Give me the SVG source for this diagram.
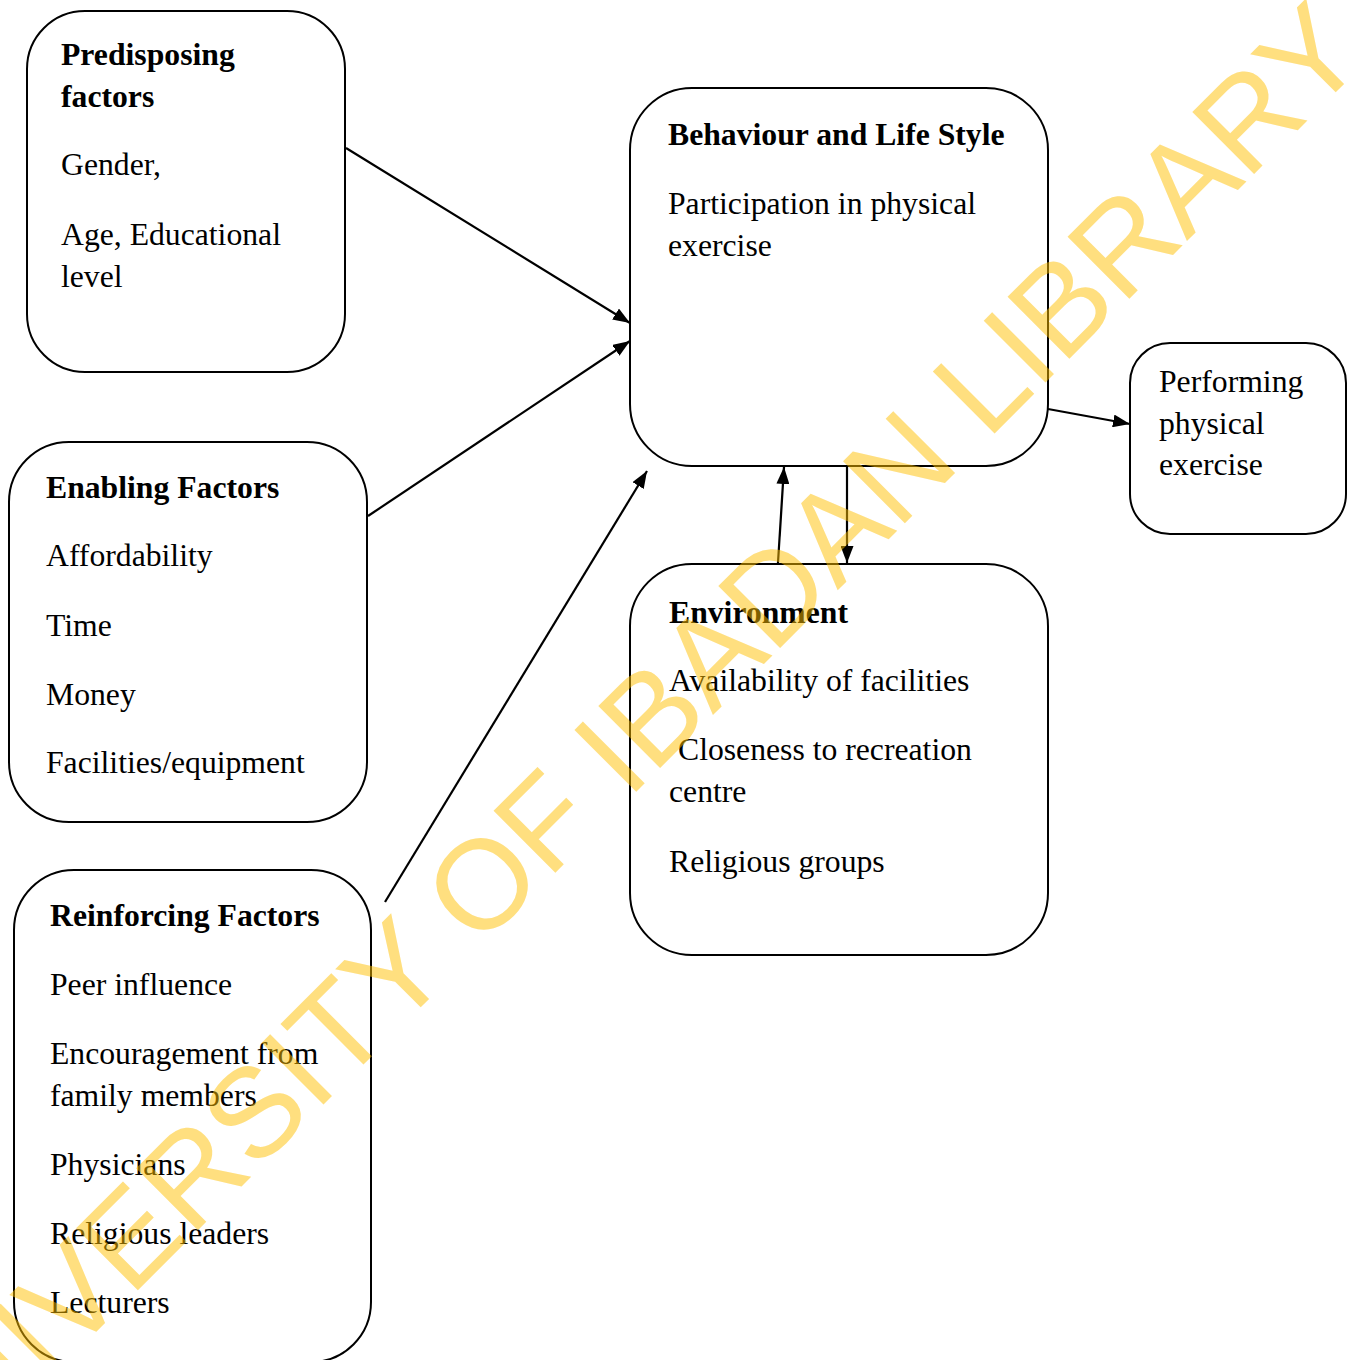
<svg xmlns="http://www.w3.org/2000/svg" width="1355" height="1360" viewBox="0 0 1355 1360">
<defs>
<style>
.box{fill:#fff;stroke:#000;stroke-width:2}
.t{font-family:"Liberation Serif","Times New Roman",serif;font-size:31.7px;fill:#000}
.b{font-weight:bold}
.c{stroke:#000;stroke-width:2.2;fill:none}
.wm{font-family:"Liberation Sans",Arial,sans-serif;font-size:127px;fill:#FFC000;fill-opacity:0.5}
</style>
<marker id="ah" viewBox="0 0 17 13" refX="17" refY="6.5" markerWidth="17" markerHeight="13" orient="auto" markerUnits="userSpaceOnUse">
<path d="M0,0 L17,6.5 L0,13 z" fill="#000"/>
</marker>
</defs>
<rect width="1355" height="1360" fill="#fff"/>

<g id="predisposing">
<rect class="box" x="27" y="11" width="318" height="361" rx="58"/>
<text class="t b" x="61" y="65">Predisposing</text>
<text class="t b" x="61" y="107">factors</text>
<text class="t" x="61" y="175">Gender,</text>
<text class="t" x="61" y="245">Age, Educational</text>
<text class="t" x="61" y="287">level</text>
</g>

<g id="behaviour">
<rect class="box" x="630" y="88" width="418" height="378" rx="62"/>
<text class="t b" x="668" y="145">Behaviour and Life Style</text>
<text class="t" x="668" y="214">Participation in physical</text>
<text class="t" x="668" y="256">exercise</text>
</g>

<g id="performing">
<rect class="box" x="1130" y="343" width="216" height="191" rx="40"/>
<text class="t" x="1159" y="392">Performing</text>
<text class="t" x="1159" y="434">physical</text>
<text class="t" x="1159" y="475">exercise</text>
</g>

<g id="enabling">
<rect class="box" x="9" y="442" width="358" height="380" rx="60"/>
<text class="t b" x="46" y="498">Enabling Factors</text>
<text class="t" x="46" y="566">Affordability</text>
<text class="t" x="46" y="636">Time</text>
<text class="t" x="46" y="705">Money</text>
<text class="t" x="46" y="773">Facilities/equipment</text>
</g>

<g id="environment">
<rect class="box" x="630" y="564" width="418" height="391" rx="62"/>
<text class="t b" x="669" y="623">Environment</text>
<text class="t" x="669" y="691">Availability of facilities</text>
<text class="t" x="678" y="760">Closeness to recreation</text>
<text class="t" x="669" y="802">centre</text>
<text class="t" x="669" y="872">Religious groups</text>
</g>

<g id="reinforcing">
<rect class="box" x="14" y="870" width="357" height="492" rx="60"/>
<text class="t b" x="50" y="926">Reinforcing Factors</text>
<text class="t" x="50" y="995">Peer influence</text>
<text class="t" x="50" y="1064">Encouragement from</text>
<text class="t" x="50" y="1106">family members</text>
<text class="t" x="50" y="1175">Physicians</text>
<text class="t" x="50" y="1244">Religious leaders</text>
<text class="t" x="50" y="1313">Lecturers</text>
</g>

<g id="connectors">
<line class="c" x1="346" y1="148" x2="630" y2="323" marker-end="url(#ah)"/>
<line class="c" x1="368" y1="516" x2="630" y2="341" marker-end="url(#ah)"/>
<line class="c" x1="385" y1="902" x2="647" y2="471" marker-end="url(#ah)"/>
<line class="c" x1="1048" y1="409" x2="1130" y2="424" marker-end="url(#ah)"/>
<line class="c" x1="778" y1="563" x2="784" y2="467" marker-end="url(#ah)"/>
<line class="c" x1="847" y1="467" x2="847" y2="563" marker-end="url(#ah)"/>
</g>

<g id="watermark">
<text class="wm" x="-84" y="1512" transform="rotate(-45 -84 1512)">UNIVERSITY OF IBADAN LIBRARY</text>
</g>
</svg>
